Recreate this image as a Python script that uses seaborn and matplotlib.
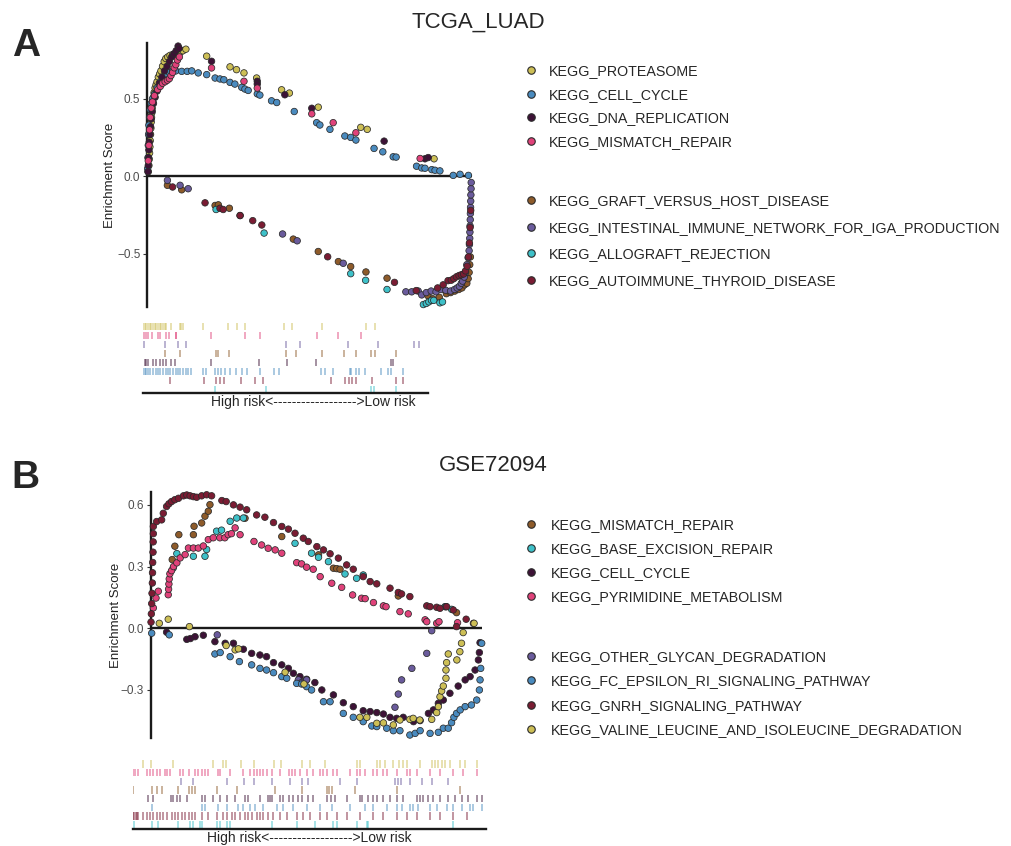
import matplotlib
matplotlib.use("Agg")
import matplotlib.pyplot as plt
import pandas as pd
import seaborn as sns
from matplotlib.lines import Line2D

sns.set_style("white")
plt.rcParams["font.family"] = ["Liberation Sans", "DejaVu Sans"]

# ---------------- colours ----------------
YELLOW = "#CDBF56"
BLUE = "#4A8BBF"
DKPURPLE = "#3D1236"
PINK = "#E0427A"
BROWN = "#8E5B2A"
PURPLE = "#6A5B9C"
CYAN = "#3EC1C9"
DKRED = "#7A1C33"

# ---------------- panel A : TCGA_LUAD (rank 0-100, ES) ----------------
a_proteasome = [(0.3, 0.03), (0.5, 0.07), (0.6, 0.11), (0.7, 0.15), (0.8, 0.19), (0.9, 0.23), (1.0, 0.27),
                (1.1, 0.31), (1.2, 0.35), (1.3, 0.38), (1.4, 0.41), (1.5, 0.44), (1.7, 0.48), (1.9, 0.51),
                (2.1, 0.54), (2.4, 0.57), (2.7, 0.59), (3.0, 0.61), (3.4, 0.64), (3.8, 0.66), (4.2, 0.68),
                (4.7, 0.71), (5.2, 0.74), (5.7, 0.76), (6.3, 0.77), (7.0, 0.78), (7.8, 0.785), (8.6, 0.79),
                (9.4, 0.795), (10.2, 0.80), (11.0, 0.81), (11.9, 0.82), (18.3, 0.775), (25.5, 0.706),
                (27.5, 0.688), (29.8, 0.667), (33.7, 0.634), (41.4, 0.558), (43.8, 0.537), (52.7, 0.446),
                (65.8, 0.316), (67.8, 0.303), (88.4, 0.113)]
a_cell_cycle = [(0.1, 0.05), (0.2, 0.12), (0.3, 0.2), (0.4, 0.27), (0.5, 0.33), (0.7, 0.38), (0.9, 0.43),
                (1.2, 0.47), (1.6, 0.5), (2.2, 0.53), (3.0, 0.57), (4.0, 0.61), (5.0, 0.64), (5.8, 0.66),
                (6.8, 0.67), (7.8, 0.68), (8.8, 0.68), (10.6, 0.677), (12.3, 0.677), (13.7, 0.68),
                (15.7, 0.667), (18.3, 0.656), (20.9, 0.634), (22.4, 0.628), (23.6, 0.623), (25.5, 0.606),
                (27.0, 0.595), (29.1, 0.574), (30.1, 0.563), (31.1, 0.554), (33.9, 0.532), (34.7, 0.524),
                (38.3, 0.487), (39.9, 0.476), (45.3, 0.418), (52.2, 0.346), (53.2, 0.331), (56.3, 0.303),
                (60.9, 0.260), (62.7, 0.251), (64.3, 0.234), (69.9, 0.180), (72.6, 0.158), (75.8, 0.126),
                (76.7, 0.124), (83.0, 0.065), (84.6, 0.054), (85.6, 0.052), (87.7, 0.043), (88.7, 0.039),
                (90.2, 0.035), (94.3, 0.006), (96.4, 0.013), (99.0, 0.006)]
a_dna_replication = [(0.2, 0.03), (0.3, 0.07), (0.4, 0.12), (0.5, 0.17), (0.6, 0.22), (0.8, 0.27), (1.0, 0.32),
                     (1.2, 0.37), (1.5, 0.42), (1.9, 0.47), (2.4, 0.51), (3.0, 0.55), (3.7, 0.6), (4.5, 0.64),
                     (5.3, 0.68), (6.1, 0.71), (6.8, 0.74), (7.5, 0.77), (8.2, 0.79), (8.9, 0.81), (9.5, 0.84),
                     (9.8, 0.825), (19.8, 0.742), (33.9, 0.613), (33.9, 0.595), (42.4, 0.526), (50.7, 0.439),
                     (73.0, 0.227), (85.6, 0.113), (86.6, 0.121)]
a_mismatch_repair = [(0.3, 0.1), (0.5, 0.2), (0.7, 0.3), (0.9, 0.38), (1.2, 0.44), (1.6, 0.48), (2.2, 0.52),
                     (3.2, 0.56), (4.0, 0.58), (4.7, 0.6), (5.5, 0.61), (6.2, 0.62), (6.8, 0.63), (7.3, 0.65),
                     (7.8, 0.67), (8.3, 0.7), (8.8, 0.72), (9.3, 0.75), (9.9, 0.77), (19.8, 0.699),
                     (29.8, 0.613), (33.9, 0.569), (50.7, 0.403), (57.3, 0.346), (64.3, 0.281), (84.1, 0.115)]
a_graft = [(6.2, -0.058), (10.6, -0.087), (20.9, -0.188), (21.9, -0.184), (25.3, -0.206), (28.6, -0.253),
           (45.0, -0.405), (52.7, -0.485), (58.9, -0.550), (62.7, -0.582), (67.4, -0.617), (73.9, -0.657),
           (86.5, -0.77), (88.0, -0.79), (90.0, -0.78), (92.2, -0.757), (93.5, -0.75), (94.8, -0.74),
           (96.0, -0.73), (97.0, -0.72), (97.8, -0.70), (98.5, -0.69), (98.9, -0.66), (99.2, -0.62),
           (99.4, -0.57), (99.6, -0.52)]
a_intestinal = [(6.2, -0.026), (10.1, -0.058), (12.6, -0.080), (41.7, -0.372), (46.2, -0.416), (60.4, -0.561),
                (79.7, -0.745), (81.5, -0.745), (83.5, -0.74), (84.6, -0.765), (86.0, -0.75), (87.5, -0.74),
                (89.0, -0.745), (90.6, -0.73), (92.0, -0.735), (93.5, -0.74), (94.7, -0.73), (95.5, -0.72),
                (96.2, -0.71), (96.8, -0.69), (97.2, -0.676), (97.7, -0.65), (98.1, -0.62), (98.5, -0.57),
                (98.9, -0.525), (99.2, -0.48), (99.3, -0.44), (99.4, -0.40), (99.45, -0.36), (99.5, -0.32),
                (99.55, -0.28), (99.6, -0.24), (99.65, -0.20), (99.7, -0.16), (99.75, -0.12), (99.8, -0.08),
                (99.85, -0.04)]
a_allograft = [(21.2, -0.214), (36.0, -0.366), (62.7, -0.628), (67.3, -0.671), (73.9, -0.73), (85.1, -0.827),
               (86.0, -0.82), (86.8, -0.81), (87.6, -0.80), (88.3, -0.80), (90.2, -0.816), (91.0, -0.81)]
a_autoimmune = [(7.8, -0.069), (17.8, -0.171), (22.4, -0.206), (23.4, -0.214), (28.6, -0.253), (32.5, -0.286),
                (35.3, -0.314), (55.6, -0.519), (76.2, -0.684), (82.9, -0.737), (89.5, -0.72), (91.2, -0.70),
                (92.7, -0.673), (93.7, -0.67), (94.5, -0.66), (95.3, -0.648), (96.1, -0.64), (96.8, -0.635),
                (97.5, -0.63), (98.1, -0.61), (98.6, -0.58), (99.0, -0.52), (99.3, -0.43), (99.5, -0.33),
                (99.7, -0.22)]

# rug (hit positions, 0-100)
a_rug_proteasome = [0, 0.6, 1.2, 1.8, 2.3, 2.9, 3.5, 4.1, 4.7, 5.3, 5.8, 6.4, 7.0, 7.6, 8.2, 9.9, 12.9, 13.5,
                    14.0, 21.1, 29.8, 33.0, 35.7, 49.4, 52.3, 62.8, 78.4, 81.3]
a_rug_mismatch = [0.2, 0.9, 1.8, 3.3, 5.3, 5.8, 8.2, 9.1, 11.5, 11.7, 23.7, 35.7, 40.9, 61.1, 68.4, 76.6]
a_rug_intestinal = [0.2, 7.6, 12.3, 15.2, 50.1, 55.2, 71.9, 82.5, 95.0, 96.8]
a_rug_graft = [7.6, 12.9, 25.5, 26.3, 30.2, 50.1, 53.8, 62.9, 70.4, 74.9, 80.1, 81.3, 88.7]
a_rug_dna = [0.6, 1.2, 1.8, 3.5, 4.4, 5.8, 7.0, 8.2, 9.9, 11.1, 23.7, 40.7, 50.5, 60.6, 87.1, 87.7]
a_rug_cell_cycle = [0, 0.6, 1.2, 1.8, 2.6, 3.5, 4.4, 5.3, 6.1, 7.0, 8.0, 8.8, 9.6, 10.5, 11.5, 12.3, 13.1,
                    14.0, 15.0, 15.8, 17.0, 21.1, 22.2, 25.1, 26.3, 27.5, 28.7, 30.4, 32.7, 34.9, 36.5, 41.2,
                    45.8, 47.7, 62.6, 63.7, 66.7, 72.5, 73.1, 74.9, 75.8, 77.8, 83.6, 86.0, 87.1, 91.2]
a_rug_autoimmune = [9.6, 21.3, 25.5, 27.1, 28.3, 34.5, 39.2, 42.1, 66.1, 70.8, 72.3, 73.5, 74.6, 80.5, 88.7, 91.2]
a_rug_allograft = [25.1, 43.0, 80.1, 80.9, 88.7]

# ---------------- panel B : GSE72094 ----------------
b_mismatch_repair = [(6.5, 0.334), (7.3, 0.399), (8.5, 0.455), (12.9, 0.455), (13.1, 0.496), (15.4, 0.512),
                     (16.4, 0.545), (17.4, 0.569), (17.9, 0.601), (28.5, 0.535), (39.6, 0.446), (50.7, 0.357),
                     (55.2, 0.292), (56.2, 0.29), (57.2, 0.287), (74.8, 0.157), (92.4, 0.076)]
b_base_excision = [(6.8, 0.293), (7.9, 0.363), (12.9, 0.350), (16.4, 0.350), (16.9, 0.383), (19.9, 0.472),
                   (21.4, 0.477), (24.0, 0.520), (26.0, 0.536), (28.0, 0.536), (43.6, 0.413), (48.6, 0.365),
                   (50.7, 0.345), (53.7, 0.324), (58.7, 0.264), (62.2, 0.243), (64.2, 0.259), (88.9, 0.105),
                   (90.9, 0.092)]
b_cell_cycle = [(4.8, -0.019), (10.9, -0.054), (12.0, -0.05), (13.4, -0.041), (15.9, -0.034), (19.4, -0.065),
                (22.5, -0.073), (25.0, -0.073), (28.0, -0.102), (30.5, -0.122), (33.0, -0.130), (35.0, -0.138),
                (37.1, -0.167), (39.6, -0.178), (41.6, -0.195), (43.1, -0.219), (45.1, -0.235), (47.1, -0.248),
                (49.6, -0.264), (51.7, -0.300), (55.2, -0.324), (58.2, -0.362), (61.2, -0.381), (64.2, -0.401),
                (66.3, -0.405), (68.3, -0.410), (70.3, -0.417), (72.3, -0.433), (74.3, -0.438), (76.3, -0.433),
                (79.4, -0.454), (81.4, -0.449), (83.9, -0.414), (85.4, -0.397), (86.9, -0.365), (88.4, -0.349),
                (90.4, -0.316), (92.9, -0.281), (95.0, -0.251), (96.5, -0.235), (98.0, -0.203), (99.0, -0.154),
                (99.3, -0.118), (99.5, -0.070)]
b_pyrimidine = [(0.8, 0.099), (1.6, 0.147), (2.3, 0.180), (5.3, 0.163), (5.4, 0.19), (5.5, 0.215), (5.6, 0.24),
                (5.8, 0.265), (6.3, 0.28), (6.9, 0.3), (7.9, 0.318), (8.9, 0.342), (10.4, 0.358), (11.4, 0.39),
                (12.9, 0.39), (14.4, 0.39), (15.9, 0.40), (17.4, 0.431), (18.9, 0.44), (20.9, 0.44),
                (22.4, 0.44), (23.4, 0.455), (24.4, 0.46), (25.5, 0.488), (27.0, 0.455), (31.2, 0.422),
                (33.5, 0.405), (35.5, 0.389), (37.6, 0.381), (39.6, 0.365), (44.1, 0.319), (45.6, 0.313),
                (47.1, 0.297), (49.1, 0.287), (51.2, 0.251), (54.7, 0.219), (57.7, 0.199), (61.0, 0.162),
                (63.7, 0.146), (64.8, 0.144), (67.3, 0.125), (70.3, 0.109), (71.1, 0.105), (75.3, 0.081),
                (77.8, 0.070), (82.9, 0.041), (83.4, 0.032), (86.4, 0.024), (87.1, 0.032), (92.7, 0.027)]
b_other_glycan = [(20.1, -0.032), (44.6, -0.251), (45.6, -0.264), (47.1, -0.251), (73.8, -0.384), (74.8, -0.320),
                  (75.8, -0.251), (78.9, -0.195), (83.4, -0.122), (84.9, -0.012), (89.2, 0.105)]
b_fc_epsilon = [(0.3, -0.024), (5.6, -0.032), (19.4, -0.125), (21.0, -0.118), (24.0, -0.138), (26.8, -0.162),
                (30.5, -0.178), (33.0, -0.195), (35.0, -0.203), (37.1, -0.216), (39.6, -0.235), (41.1, -0.243),
                (44.1, -0.268), (45.6, -0.271), (47.1, -0.284), (48.6, -0.300), (52.2, -0.357), (54.2, -0.357),
                (58.2, -0.414), (61.2, -0.433), (64.2, -0.454), (66.8, -0.475), (68.3, -0.478), (71.3, -0.486),
                (73.3, -0.498), (75.3, -0.498), (78.3, -0.519), (79.9, -0.511), (81.4, -0.498), (84.4, -0.511),
                (86.9, -0.506), (88.4, -0.486), (89.9, -0.486), (90.9, -0.459), (91.6, -0.433), (92.4, -0.414),
                (93.5, -0.397), (95.0, -0.381), (96.9, -0.373), (98.5, -0.349), (99.3, -0.300), (99.5, -0.251),
                (99.7, -0.195), (100.0, -0.073)]
b_gnrh = [(0.1, 0.03), (0.2, 0.07), (0.3, 0.12), (0.4, 0.17), (0.5, 0.22), (0.55, 0.27), (0.6, 0.32),
          (0.7, 0.37), (0.75, 0.42), (0.8, 0.46), (0.8, 0.495), (1.8, 0.519), (3.3, 0.527), (3.8, 0.559),
          (4.8, 0.592), (5.5, 0.605), (6.3, 0.616), (7.3, 0.625), (8.4, 0.632), (9.9, 0.644), (10.9, 0.648),
          (11.9, 0.644), (12.9, 0.64), (13.9, 0.637), (15.4, 0.644), (16.9, 0.649), (18.4, 0.644),
          (21.5, 0.621), (22.8, 0.616), (25.0, 0.600), (27.0, 0.589), (29.0, 0.576), (32.0, 0.551),
          (34.5, 0.540), (37.1, 0.514), (39.6, 0.495), (41.6, 0.482), (43.6, 0.462), (46.1, 0.438),
          (47.6, 0.422), (50.2, 0.397), (52.2, 0.381), (54.2, 0.362), (56.7, 0.341), (59.2, 0.308),
          (61.2, 0.287), (64.2, 0.251), (66.3, 0.227), (68.3, 0.216), (72.3, 0.195), (74.8, 0.174),
          (75.8, 0.167), (78.3, 0.154), (83.4, 0.109), (84.4, 0.105), (86.4, 0.102), (87.4, 0.097),
          (89.4, 0.105), (91.4, 0.089), (92.4, 0.008), (95.3, 0.044), (97.5, 0.024)]
b_valine = [(2.6, 0.024), (5.3, 0.044), (11.7, 0.008), (22.8, -0.084), (25.5, -0.105), (26.5, -0.10),
            (40.6, -0.214), (46.3, -0.271), (63.2, -0.433), (65.3, -0.433), (68.3, -0.462), (70.3, -0.46),
            (73.3, -0.470), (75.3, -0.446), (78.3, -0.443), (79.3, -0.438), (81.3, -0.446), (84.9, -0.443),
            (86.4, -0.410), (86.9, -0.381), (87.4, -0.333), (87.9, -0.305), (88.4, -0.281), (89.2, -0.243),
            (89.2, -0.203), (89.4, -0.167), (89.9, -0.125), (92.5, -0.154), (93.4, -0.114), (93.9, -0.073),
            (94.4, -0.021), (97.7, 0.024)]

b_rug_valine = [2.8, 5.1, 11.5, 22.8, 25.5, 26.4, 30.6, 34.3, 40.0, 41.9, 47.8, 50.2, 54.4, 63.4, 64.3, 69.1,
                70.0, 71.4, 73.8, 75.5, 76.4, 77.5, 81.3, 84.6, 85.6, 86.5, 87.5, 88.4, 89.8, 92.6, 94.0, 97.5]
b_rug_pyrimidine = [0.2, 0.7, 1.6, 4.0, 4.9, 5.8, 6.8, 7.7, 9.2, 9.6, 10.6, 13.4, 14.3, 15.8, 17.6, 18.6, 19.5,
                    20.5, 21.4, 24.2, 24.7, 27.5, 31.3, 33.2, 34.2, 35.1, 36.0, 37.0, 37.9, 39.3, 41.7, 44.1,
                    45.0, 46.0, 47.4, 49.2, 51.1, 53.0, 54.0, 54.9, 56.8, 57.7, 61.5, 63.4, 64.3, 65.8, 68.1,
                    69.1, 70.9, 71.9, 74.7, 77.5, 78.5, 80.4, 84.2, 87.0, 90.8, 93.6, 97.4]
b_rug_other_glycan = [13.6, 17.0, 26.6, 31.5, 34.2, 39.3, 44.5, 47.8, 49.7, 58.7, 63.4, 74.2, 75.1, 76.0, 78.5,
                      81.8, 84.6, 89.3]
b_rug_mismatch = [0.2, 5.4, 6.8, 8.2, 12.9, 15.8, 16.7, 17.6, 23.8, 29.4, 40.3, 47.8, 54.9, 55.7, 56.3, 62.9,
                  74.7, 92.6]
b_rug_cell_cycle = [4.2, 5.8, 10.8, 11.5, 12.5, 13.4, 15.3, 19.5, 20.5, 22.8, 24.7, 26.6, 29.0, 31.8, 32.7,
                    36.0, 38.4, 38.9, 39.3, 41.7, 42.6, 44.1, 45.5, 46.9, 47.8, 49.7, 51.1, 54.9, 56.0, 57.3,
                    60.6, 64.3, 64.8, 66.7, 68.1, 69.1, 70.9, 72.8, 74.7, 76.6, 80.4, 81.3, 82.3, 83.7, 85.1,
                    87.0, 89.3, 91.2, 93.1, 95.0, 97.4, 98.8]
b_rug_fc_epsilon = [5.4, 19.5, 20.5, 24.2, 26.6, 29.9, 31.3, 33.2, 34.6, 37.0, 40.8, 42.6, 45.5, 49.2, 53.0,
                    56.3, 61.5, 65.8, 68.1, 71.9, 74.7, 76.1, 78.5, 79.4, 80.8, 84.2, 86.0, 88.9, 90.8, 93.1,
                    95.5, 96.4, 98.8]
b_rug_gnrh = [0, 0.4, 0.8, 1.1, 1.6, 3.0, 4.0, 4.9, 5.8, 6.8, 7.7, 8.7, 9.6, 11.0, 12.0, 12.9, 13.9, 14.8, 15.8,
              16.7, 17.6, 19.5, 21.4, 23.8, 25.7, 26.6, 28.0, 29.0, 30.4, 31.8, 32.7, 33.7, 35.1, 36.0, 37.0,
              38.4, 39.8, 41.7, 43.6, 46.4, 48.3, 50.2, 53.0, 54.9, 57.7, 60.6, 64.3, 68.1, 70.9, 74.7, 77.5,
              80.4, 84.2, 87.0, 90.8, 94.5]
b_rug_base_excision = [0.4, 5.4, 7.3, 12.9, 16.2, 17.2, 19.1, 19.5, 23.8, 24.7, 26.6, 27.5, 39.3, 46.4, 51.6,
                       56.8, 57.7, 63.4, 66.2, 66.7, 90.8]

# ---------------- names ----------------
A_pos = ["KEGG_PROTEASOME", "KEGG_CELL_CYCLE", "KEGG_DNA_REPLICATION", "KEGG_MISMATCH_REPAIR"]
A_neg = ["KEGG_GRAFT_VERSUS_HOST_DISEASE", "KEGG_INTESTINAL_IMMUNE_NETWORK_FOR_IGA_PRODUCTION",
         "KEGG_ALLOGRAFT_REJECTION", "KEGG_AUTOIMMUNE_THYROID_DISEASE"]
B_pos = ["KEGG_MISMATCH_REPAIR", "KEGG_BASE_EXCISION_REPAIR", "KEGG_CELL_CYCLE", "KEGG_PYRIMIDINE_METABOLISM"]
B_neg = ["KEGG_OTHER_GLYCAN_DEGRADATION", "KEGG_FC_EPSILON_RI_SIGNALING_PATHWAY", "KEGG_GNRH_SIGNALING_PATHWAY",
         "KEGG_VALINE_LEUCINE_AND_ISOLEUCINE_DEGRADATION"]
X_LABEL = "High risk<------------------>Low risk"

pal_A = dict(zip(A_pos + A_neg, [YELLOW, BLUE, DKPURPLE, PINK, BROWN, PURPLE, CYAN, DKRED]))
pal_B = dict(zip(B_pos + B_neg, [BROWN, CYAN, DKPURPLE, PINK, PURPLE, BLUE, DKRED, YELLOW]))

pts_A = dict(zip(A_pos + A_neg, [a_proteasome, a_cell_cycle, a_dna_replication, a_mismatch_repair,
                                 a_graft, a_intestinal, a_allograft, a_autoimmune]))
pts_B = dict(zip(B_pos + B_neg, [b_mismatch_repair, b_base_excision, b_cell_cycle, b_pyrimidine,
                                 b_other_glycan, b_fc_epsilon, b_gnrh, b_valine]))

rug_A = [(A_pos[0], a_rug_proteasome), (A_pos[3], a_rug_mismatch), (A_neg[1], a_rug_intestinal),
         (A_neg[0], a_rug_graft), (A_pos[2], a_rug_dna), (A_pos[1], a_rug_cell_cycle),
         (A_neg[3], a_rug_autoimmune), (A_neg[2], a_rug_allograft)]
rug_B = [(B_neg[3], b_rug_valine), (B_pos[3], b_rug_pyrimidine), (B_neg[0], b_rug_other_glycan),
         (B_pos[0], b_rug_mismatch), (B_pos[2], b_rug_cell_cycle), (B_neg[1], b_rug_fc_epsilon),
         (B_neg[2], b_rug_gnrh), (B_pos[1], b_rug_base_excision)]


def to_frame(pts):
    rows = [(name, x, y) for name, lst in pts.items() for x, y in lst]
    return pd.DataFrame(rows, columns=["set", "rank", "es"])


W, H = 1011, 846
fig = plt.figure(figsize=(W / 100, H / 100), dpi=100)


def box(l, t, r, b):
    return [l / W, 1 - b / H, (r - l) / W, (b - t) / H]


def es_panel(rect, pts, pal, ylim, yticks, ylab_x):
    ax = fig.add_axes(rect)
    df = to_frame(pts)
    sns.scatterplot(data=df, x="rank", y="es", hue="set", palette=pal, s=22, edgecolor="#2a2a2a",
                    linewidth=0.55, legend=False, ax=ax, clip_on=False, zorder=3)
    ax.axhline(0, color="#1a1a1a", lw=1.7, zorder=2)
    ax.set_xlim(0, 100)
    ax.set_ylim(*ylim)
    sns.despine(ax=ax, bottom=True)
    ax.spines["left"].set_linewidth(1.7)
    ax.spines["left"].set_color("#1a1a1a")
    ax.set_xticks([])
    ax.set_yticks(yticks)
    ax.tick_params(axis="y", direction="out", length=3, width=0.8, color="#333333",
                   labelsize=8.5, labelcolor="#4D4D4D", left=True, pad=2)
    ax.set_xlabel("")
    ax.set_ylabel("Enrichment Score", fontsize=9.5, color="#222222")
    ax.yaxis.set_label_coords(ylab_x, 0.5)
    return ax


def rug_panel(rect, rows, pal, ylim):
    ax = fig.add_axes(rect)
    for k, (name, xs) in enumerate(rows, start=1):
        ax.vlines(xs, k - 0.42, k + 0.42, color=pal[name], alpha=0.5, lw=1.3)
    ax.set_xlim(0, 100)
    ax.set_ylim(*ylim)
    sns.despine(ax=ax, left=True)
    ax.spines["bottom"].set_linewidth(1.7)
    ax.spines["bottom"].set_color("#1a1a1a")
    ax.set_xticks([])
    ax.set_yticks([])
    return ax


def legend_block(names, pal, x_px, top_px, spacing, textpad):
    handles = [Line2D([], [], ls="", marker="o", markersize=5.4, markerfacecolor=pal[n],
                      markeredgecolor="#2a2a2a", markeredgewidth=0.8) for n in names]
    fig.legend(handles, names, loc="upper left", bbox_to_anchor=(x_px / W, 1 - top_px / H),
               frameon=False, fontsize=10.3, handlelength=1.0, handletextpad=textpad,
               labelspacing=spacing, borderpad=0, borderaxespad=0)


# ---- Panel A ----
es_panel(box(147.3, 43.3, 471.7, 306.7), pts_A, pal_A, (-0.841, 0.858), [-0.5, 0.0, 0.5], -0.096)
rug_panel(box(143, 318, 428, 393), rug_A, pal_A, (8.39, 0.056))
fig.text(313 / W, 1 - 402 / H, X_LABEL, ha="center", va="center", fontsize=10)
fig.text(478 / W, 1 - 22 / H, "TCGA_LUAD", ha="center", va="center", fontsize=16)
fig.text(26 / W, 1 - 46 / H, "A", ha="center", va="center", fontsize=28, fontweight="bold")
legend_block(A_pos, pal_A, 524, 64, 0.68, 0.75)
legend_block(A_neg, pal_A, 524, 194, 0.89, 0.75)

# ---- Panel B ----
es_panel(box(150.7, 491.7, 481.7, 738.3), pts_B, pal_B, (-0.535, 0.664), [-0.3, 0.0, 0.3, 0.6], -0.087)
rug_panel(box(132.7, 756, 486, 829), rug_B, pal_B, (8.51, 0.075))
fig.text(309 / W, 1 - 838 / H, X_LABEL, ha="center", va="center", fontsize=10)
fig.text(493 / W, 1 - 465 / H, "GSE72094", ha="center", va="center", fontsize=16)
fig.text(25 / W, 1 - 478 / H, "B", ha="center", va="center", fontsize=28, fontweight="bold")
legend_block(B_pos, pal_B, 524, 518, 0.70, 0.89)
legend_block(B_neg, pal_B, 524, 650, 0.72, 0.89)

fig.savefig("out.png", dpi=100)
